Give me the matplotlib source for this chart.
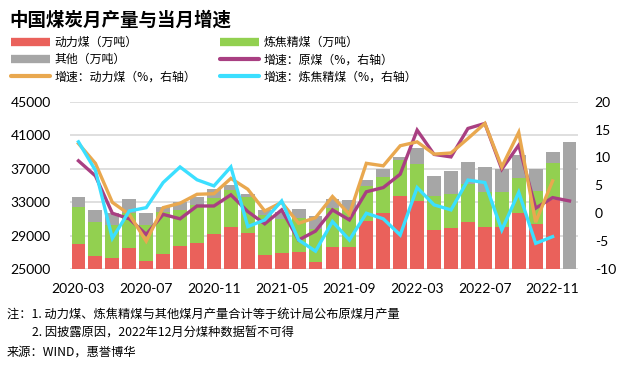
import matplotlib
matplotlib.use("Agg")
import matplotlib.pyplot as plt
from matplotlib.lines import Line2D
import numpy as np

plt.rcParams['font.family'] = ['Lato', 'Noto Sans CJK SC', 'DejaVu Sans']

months = ["2020-03","2020-04","2020-05","2020-06","2020-07","2020-08","2020-09","2020-10","2020-11","2020-12",
          "2021-03","2021-04","2021-05","2021-06","2021-07","2021-08","2021-09","2021-10","2021-11","2021-12",
          "2022-03","2022-04","2022-05","2022-06","2022-07","2022-08","2022-09","2022-10","2022-11","2022-12"]

power = [27985, 26590, 26350, 27510, 25955, 26790, 27750, 28100, 29180, 30010,
         29300, 26670, 26870, 27030, 25850, 27630, 27630, 30730, 31690, 33720,
         33120, 29660, 29930, 30650, 30050, 30010, 31650, 30340, 33240, 0]
coking = [4385, 4020, 3900, 4200, 4295, 5060, 4295, 4540, 4260, 4420,
          4260, 4780, 4100, 4095, 3910, 4620, 4415, 4180, 4260, 4290,
          4420, 4060, 4020, 4460, 4180, 4150, 4180, 3970, 4420, 0]
other = [1190, 1435, 1450, 1650, 1400, 520, 915, 920, 1110, 600,
         390, 595, 880, 1075, 1570, 1110, 1195, 720, 990, 400,
         1950, 2380, 2750, 2670, 2990, 2780, 2780, 2630, 1270, 40130]

g_raw = [9.4, 6.7, 0.0, -1.0, -3.8, -0.2, -1.0, 1.3, 1.3, 3.3,
         0.3, -1.9, 0.6, -4.8, -3.2, 0.6, -1.2, 3.85, 4.6, 7.0,
         14.9, 10.55, 10.1, 15.2, 16.1, 7.9, 12.2, 0.9, 2.8, 2.2]
g_power = [12.5, 8.95, 1.95, -0.2, -5.0, 1.0, 1.8, 3.4, 3.5, 6.25,
           4.3, 0.4, 1.95, -1.8, -0.8, 3.0, -0.2, 8.95, 8.5, 12.1,
           12.8, 10.6, 10.8, 13.4, 16.1, 8.3, 14.5, -1.6, 5.8]
g_coking = [12.8, 7.7, -4.5, 0.4, 1.0, 5.5, 8.3, 6.0, 4.9, 8.3,
            -2.4, -1.2, 2.2, -4.8, -6.8, -1.5, -4.8, 0.0, -1.0, -3.9,
            4.6, 1.5, 0.6, 5.95, 5.5, -3.0, 3.75, -5.4, -4.2]

left_ticks = [25000, 29000, 33000, 37000, 41000, 45000]
right_ticks = [-10, -5, 0, 5, 10, 15, 20]

c_red = "#EA615B"
c_green = "#92D050"
c_gray = "#A6A6A6"
c_purple = "#A93F82"
c_orange = "#E9A84F"
c_cyan = "#3BDFFF"

W, H = 619, 365
fig = plt.figure(figsize=(W/100, H/100), dpi=100)
ax = fig.add_axes([70/W, (H-269)/H, (578-70)/W, (269-101.7)/H])

x = np.arange(len(months))
power_a = np.array(power); coking_a = np.array(coking); other_a = np.array(other)
bw = 0.82
ax.bar(x, power_a, bw, color=c_red, zorder=2)
ax.bar(x, coking_a, bw, bottom=power_a, color=c_green, zorder=2)
ax.bar(x, other_a, bw, bottom=power_a + coking_a, color=c_gray, zorder=2)
ax.set_ylim(25000, 45000)
ax.set_xlim(-0.5, len(months) - 0.5)
ax.set_yticks(left_ticks)
ax.set_yticklabels([str(v) for v in left_ticks])
ax.grid(axis='y', color='#D9D9D9', linewidth=1.2, zorder=0)
ax.set_axisbelow(True)
for s in ax.spines.values():
    s.set_visible(False)
ax.tick_params(axis='both', length=0, labelsize=10, colors='#000000')
ax.tick_params(axis='y', pad=14)
ax.tick_params(axis='x', pad=10)
tick_idx = list(range(0, len(months), 4))
ax.set_xticks(tick_idx)
ax.set_xticklabels([months[i] for i in tick_idx])

ax2 = ax.twinx()
ax2.set_ylim(-10, 20)
ax2.set_yticks(right_ticks)
ax2.set_yticklabels([str(v) for v in right_ticks])
for s in ax2.spines.values():
    s.set_visible(False)
ax2.tick_params(axis='y', length=0, labelsize=10, pad=12)
lw = 2.4
ax2.plot(np.arange(len(g_raw)), g_raw, color=c_purple, lw=lw, solid_joinstyle='miter', zorder=3)
ax2.plot(np.arange(len(g_power)), g_power, color=c_orange, lw=lw, solid_joinstyle='miter', zorder=4)
ax2.plot(np.arange(len(g_coking)), g_coking, color=c_cyan, lw=lw, solid_joinstyle='miter', zorder=5)

fig.text(9/W, 1 - 20/H, "中国煤炭月产量与当月增速", fontsize=13.3, fontweight='bold',
         va='center', ha='left', family=['Noto Sans CJK SC'])

fs = 8.6
h1 = [Line2D([], [], color=c_red, lw=6, solid_capstyle='butt'),
      Line2D([], [], color=c_gray, lw=6, solid_capstyle='butt'),
      Line2D([], [], color=c_orange, lw=3, solid_capstyle='round')]
l1 = ["动力煤（万吨）", "其他（万吨）", "增速：动力煤（%，右轴）"]
h2 = [Line2D([], [], color=c_green, lw=6, solid_capstyle='butt'),
      Line2D([], [], color=c_purple, lw=3, solid_capstyle='round'),
      Line2D([], [], color=c_cyan, lw=3, solid_capstyle='round')]
l2 = ["炼焦精煤（万吨）", "增速：原煤（%，右轴）", "增速：炼焦精煤（%，右轴）"]
common = dict(frameon=False, handlelength=3.3, handletextpad=0.35,
              labelspacing=0.35, borderpad=0, borderaxespad=0,
              prop={'family': ['Noto Sans CJK SC'], 'size': fs})
leg1 = fig.legend(h1, l1, loc='upper left', bbox_to_anchor=(11/W, 1 - 36/H), **common)
leg2 = fig.legend(h2, l2, loc='upper left', bbox_to_anchor=(220/W, 1 - 36/H), **common)

nf = ['Noto Sans CJK SC']
fig.text(7/W, 1 - 314/H, "注：1. 动力煤、炼焦精煤与其他煤月产量合计等于统计局公布原煤月产量",
         fontsize=8.8, va='center', ha='left', family=nf)
fig.text(32/W, 1 - 333/H, "2. 因披露原因，2022年12月分煤种数据暂不可得",
         fontsize=8.8, va='center', ha='left', family=nf)
fig.text(7/W, 1 - 352/H, "来源：WIND，惠誉博华",
         fontsize=8.8, va='center', ha='left', family=nf)

fig.savefig("out.png", dpi=100)
